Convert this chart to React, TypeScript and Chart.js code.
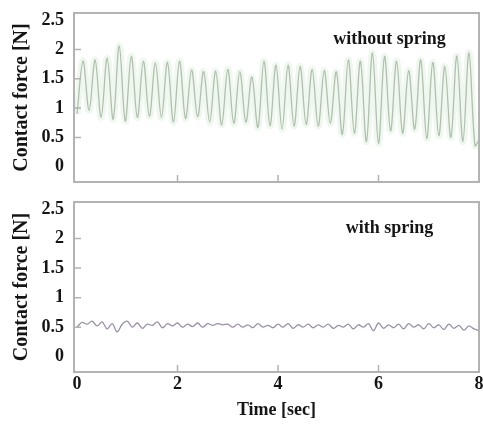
import React, { useEffect, useRef } from "react";
import { Chart, registerables } from "chart.js";

Chart.register(...registerables);

const FONT = '"Liberation Serif", "Times New Roman", serif';

// ---- axis ticks ----
const xTicks = [0, 2, 4, 6, 8];
const yTicks = [0, 0.5, 1, 1.5, 2, 2.5];
const yInnerTicks = [0.5, 1, 1.5, 2];
const xInnerTicks = [2, 4, 6];

// ---- labels ----
const yTitle = "Contact force [N]";
const xTitle = "Time [sec]";
const topLabel = "without spring";
const bottomLabel = "with spring";

// ---- top panel: without spring ----
const topTimes = [
  0.0, 0.12, 0.24, 0.36, 0.48, 0.6, 0.72, 0.84, 0.96, 1.08, 1.2, 1.32, 1.44, 1.56, 1.68, 1.8,
  1.92, 2.04, 2.16, 2.28, 2.4, 2.52, 2.64, 2.76, 2.88, 3.0, 3.12, 3.24, 3.36, 3.48, 3.6, 3.72,
  3.84, 3.96, 4.08, 4.2, 4.32, 4.44, 4.56, 4.68, 4.8, 4.92, 5.04, 5.16, 5.28, 5.4, 5.52, 5.64,
  5.76, 5.88, 6.0, 6.12, 6.24, 6.36, 6.48, 6.6, 6.72, 6.84, 6.96, 7.08, 7.2, 7.32, 7.44, 7.56,
  7.68, 7.8, 7.92, 8.0,
];
const topForce = [
  0.9, 1.8, 0.96, 1.82, 0.84, 1.85, 0.81, 2.06, 0.78, 1.88, 0.84, 1.8, 0.86, 1.77, 0.84, 1.78,
  0.76, 1.8, 0.82, 1.65, 0.85, 1.62, 0.76, 1.63, 0.71, 1.66, 0.74, 1.62, 0.76, 1.53, 0.67, 1.8,
  0.7, 1.73, 0.64, 1.73, 0.69, 1.71, 0.72, 1.66, 0.69, 1.64, 0.74, 1.62, 0.55, 1.82, 0.57, 1.8,
  0.43, 1.94, 0.4, 1.88, 0.61, 1.8, 0.57, 1.64, 0.64, 1.82, 0.48, 1.78, 0.53, 1.71, 0.5, 1.89,
  0.43, 1.94, 0.36, 0.46,
];

// ---- bottom panel: with spring ----
const bottomTimes = [
  0.0, 0.1, 0.2, 0.3, 0.4, 0.5, 0.6, 0.7, 0.8, 0.9, 1.0, 1.1, 1.2, 1.3, 1.4, 1.5, 1.6, 1.7,
  1.8, 1.9, 2.0, 2.1, 2.2, 2.3, 2.4, 2.5, 2.6, 2.7, 2.8, 2.9, 3.0, 3.1, 3.2, 3.3, 3.4, 3.5,
  3.6, 3.7, 3.8, 3.9, 4.0, 4.1, 4.2, 4.3, 4.4, 4.5, 4.6, 4.7, 4.8, 4.9, 5.0, 5.1, 5.2, 5.3,
  5.4, 5.5, 5.6, 5.7, 5.8, 5.9, 6.0, 6.1, 6.2, 6.3, 6.4, 6.5, 6.6, 6.7, 6.8, 6.9, 7.0, 7.1,
  7.2, 7.3, 7.4, 7.5, 7.6, 7.7, 7.8, 7.9, 8.0,
];
const bottomForce = [
  0.5, 0.58, 0.55, 0.6, 0.52, 0.59, 0.47, 0.56, 0.42, 0.55, 0.6, 0.5, 0.57, 0.48, 0.55, 0.53,
  0.59, 0.49, 0.56, 0.52, 0.57, 0.5, 0.55, 0.51, 0.57, 0.5, 0.56, 0.53, 0.56, 0.54, 0.55, 0.5,
  0.55, 0.5, 0.54, 0.49, 0.56, 0.5, 0.53, 0.49, 0.55, 0.5, 0.56, 0.48, 0.54, 0.5, 0.55, 0.49,
  0.54, 0.5, 0.55, 0.48, 0.53, 0.5, 0.55, 0.47, 0.54, 0.5, 0.56, 0.44, 0.57, 0.48, 0.54, 0.49,
  0.55, 0.47, 0.56, 0.5, 0.54, 0.47, 0.56, 0.49, 0.54, 0.46, 0.55, 0.48, 0.53, 0.45, 0.52, 0.47,
  0.44,
];

const Y_MIN = -0.26;
const Y_MAX = 2.62;
const X_MIN = -0.06;
const X_MAX = 8;
const LABEL_POS = { x: 6.22, y: 2.17 };

function framePlugin(label: string) {
  return {
    id: "frameAndLabel",
    afterDatasetsDraw(chart: any) {
      const { ctx, chartArea: a, scales } = chart;
      ctx.save();
      ctx.strokeStyle = "#b3b3b3";
      ctx.lineWidth = 2;
      ctx.strokeRect(a.left, a.top, a.right - a.left, a.bottom - a.top);
      ctx.lineWidth = 1.5;
      ctx.beginPath();
      yInnerTicks.forEach((v) => {
        const y = scales.y.getPixelForValue(v);
        ctx.moveTo(a.left, y);
        ctx.lineTo(a.left + 7, y);
      });
      xInnerTicks.forEach((v) => {
        const x = scales.x.getPixelForValue(v);
        ctx.moveTo(x, a.bottom);
        ctx.lineTo(x, a.bottom - 7);
      });
      ctx.stroke();
      ctx.fillStyle = "#151515";
      ctx.font = `bold 18px ${FONT}`;
      ctx.textAlign = "center";
      ctx.textBaseline = "middle";
      ctx.fillText(
        label,
        scales.x.getPixelForValue(LABEL_POS.x),
        scales.y.getPixelForValue(LABEL_POS.y)
      );
      ctx.restore();
    },
  };
}

function makeConfig(
  times: number[],
  values: number[],
  color: string,
  halo: string | null,
  label: string,
  showX: boolean
): any {
  const pts = times.map((t, i) => ({ x: t, y: values[i] }));
  const datasets: any[] = [];
  if (halo) {
    datasets.push({
      data: pts,
      borderColor: halo,
      borderWidth: 7,
      pointRadius: 0,
      tension: 0.35,
      fill: false,
    });
  }
  datasets.push({
    data: pts,
    borderColor: color,
    borderWidth: 1.3,
    pointRadius: 0,
    tension: 0.35,
    fill: false,
  });
  return {
    type: "line",
    data: { datasets },
    plugins: [framePlugin(label)],
    options: {
      responsive: false,
      animation: false,
      devicePixelRatio: 1,
      layout: { padding: { left: 0, right: 4, top: showX ? 12 : 13, bottom: 0 } },
      plugins: { legend: { display: false }, tooltip: { enabled: false } },
      scales: {
        x: {
          type: "linear",
          min: X_MIN,
          max: X_MAX,
          afterBuildTicks: (s: any) => {
            s.ticks = xTicks.map((v) => ({ value: v }));
          },
          afterFit: (s: any) => {
            s.height = showX ? 55 : 8;
            s.paddingLeft = 0;
            s.paddingRight = 0;
            s.paddingTop = 0;
            s.paddingBottom = 0;
          },
          grid: { display: false, drawTicks: false },
          border: { display: false },
          ticks: {
            display: showX,
            autoSkip: false,
            maxRotation: 0,
            padding: 2,
            color: "#151515",
            font: { family: FONT, size: 18, weight: "bold" },
          },
          title: {
            display: showX,
            text: xTitle,
            color: "#151515",
            font: { family: FONT, size: 18, weight: "bold" },
            padding: { top: 0, bottom: 6 },
          },
        },
        y: {
          type: "linear",
          min: Y_MIN,
          max: Y_MAX,
          afterBuildTicks: (s: any) => {
            s.ticks = yTicks.map((v) => ({ value: v }));
          },
          afterFit: (s: any) => {
            s.width = 74;
            s.paddingTop = 0;
            s.paddingBottom = 0;
            s.paddingLeft = 0;
            s.paddingRight = 0;
          },
          grid: { display: false, drawTicks: false },
          border: { display: false },
          ticks: {
            autoSkip: false,
            padding: 10,
            color: "#151515",
            font: { family: FONT, size: 18, weight: "bold" },
            callback: (v: any) => String(v),
          },
          title: {
            display: true,
            text: yTitle,
            color: "#151515",
            font: { family: FONT, size: 20, weight: "bold" },
            padding: { top: 10, bottom: 0 },
          },
        },
      },
    },
  };
}

function Panel(props: {
  top: number;
  height: number;
  times: number[];
  values: number[];
  color: string;
  halo: string | null;
  label: string;
  showX: boolean;
}) {
  const ref = useRef<HTMLCanvasElement | null>(null);
  useEffect(() => {
    if (!ref.current) return;
    const chart = new Chart(
      ref.current,
      makeConfig(props.times, props.values, props.color, props.halo, props.label, props.showX)
    );
    return () => chart.destroy();
  }, []);
  return (
    <canvas
      ref={ref}
      width={483}
      height={props.height}
      style={{ position: "absolute", left: 0, top: props.top, width: 483, height: props.height, display: "block" }}
    />
  );
}

export default function App() {
  return (
    <div style={{ position: "fixed", left: 0, top: 0, width: 483, height: 427, background: "#fff", overflow: "hidden" }}>
      <Panel
        top={0}
        height={190}
        times={topTimes}
        values={topForce}
        color="#a4a6a0"
        halo="rgba(205,235,205,0.35)"
        label={topLabel}
        showX={false}
      />
      <Panel
        top={190}
        height={237}
        times={bottomTimes}
        values={bottomForce}
        color="#9c90a8"
        halo={null}
        label={bottomLabel}
        showX={true}
      />
    </div>
  );
}
